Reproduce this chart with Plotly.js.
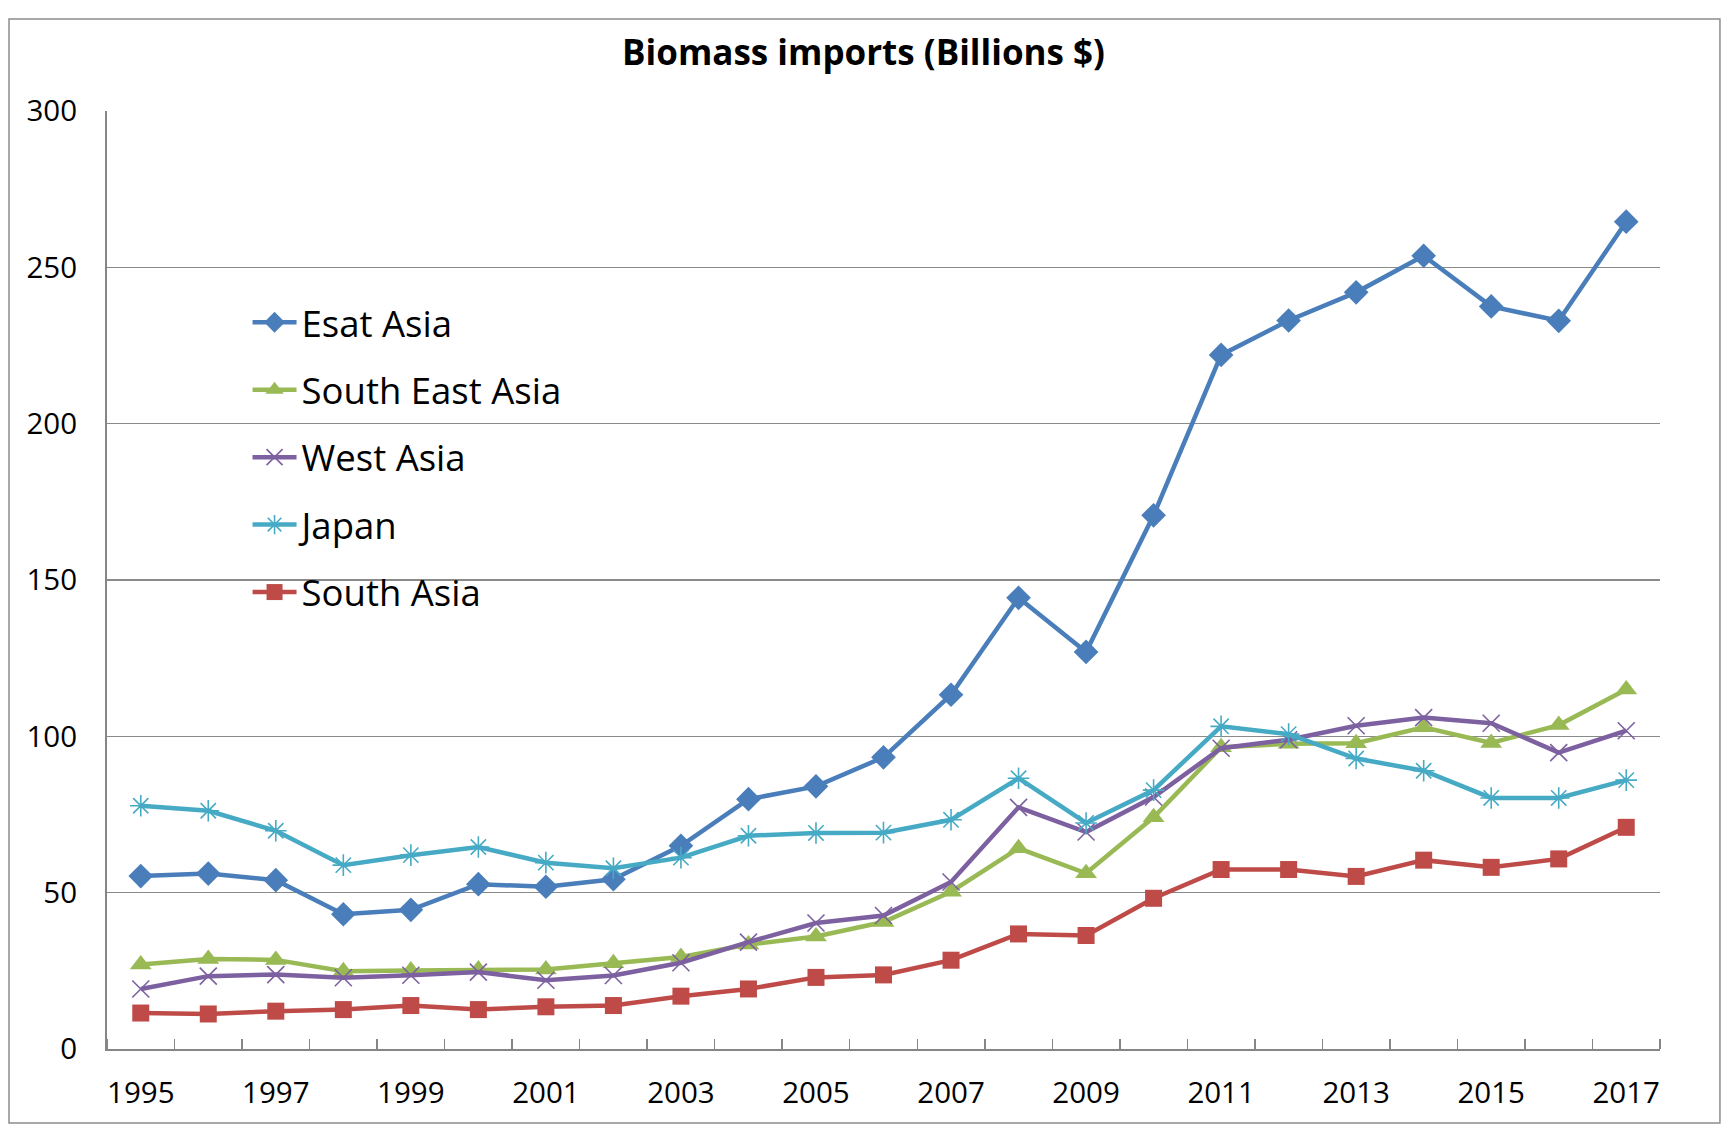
<!DOCTYPE html>
<html>
<head>
<meta charset="utf-8">
<script src="https://cdn.plot.ly/plotly-3.0.1.min.js"></script>
<style>html,body{margin:0;padding:0;background:#fff;}#chart{width:1727px;height:1127px;}</style>
</head>
<body>
<div id="chart"></div>
<script>
const years = [1995,1996,1997,1998,1999,2000,2001,2002,2003,2004,2005,2006,2007,2008,2009,2010,2011,2012,2013,2014,2015,2016,2017];
const tickYears = [1995,1997,1999,2001,2003,2005,2007,2009,2011,2013,2015,2017];
const eastAsia = [55.3,56.1,54.0,43.1,44.5,52.7,51.9,54.3,65.0,79.9,84.0,93.3,113.3,144.3,127.0,170.7,222.0,233.0,242.0,253.7,237.5,232.9,264.6];
const southEastAsia = [27.0,28.8,28.5,24.9,25.1,25.4,25.4,27.4,29.4,33.4,36.0,40.6,50.3,64.2,56.2,74.1,96.5,97.6,97.8,102.9,97.9,103.6,115.0];
const westAsia = [19.2,23.3,23.8,22.8,23.6,24.6,22.0,23.5,27.6,34.2,40.3,42.7,53.4,77.3,69.4,80.6,96.2,98.9,103.4,106.0,104.2,94.8,101.8];
const japan = [77.8,76.2,69.8,58.8,62.0,64.6,59.6,57.8,61.2,68.2,69.1,69.2,73.3,86.6,72.3,82.8,103.2,100.7,92.9,89.0,80.3,80.3,86.0];
const southAsia = [11.5,11.2,12.1,12.6,13.9,12.6,13.5,13.9,16.9,19.2,22.9,23.7,28.4,36.8,36.3,48.2,57.4,57.4,55.2,60.4,58.1,60.8,70.9];
const names = ['Esat Asia','South East Asia','West Asia','Japan','South Asia'];

const font = '"Open Sans", "Noto Sans", sans-serif';
function tr(name, y, color, symbol, size, mline) {
  return {
    type: 'scatter', mode: 'lines+markers', name: name, x: years, y: y,
    legendgroup: name,
    line: {color: color, width: 4.5},
    marker: {symbol: symbol, size: size, color: color, line: {color: color, width: mline}}
  };
}
const data = [
  tr(names[0], eastAsia, '#4A7EBB', 'diamond', 19, 0),
  tr(names[1], southEastAsia, '#98B954', 'triangle-up', 19, 0),
  tr(names[2], westAsia, '#7D60A0', 'x-thin-open', 17, 1.6),
  tr(names[3], japan, '#46AAC5', 'asterisk-open', 18, 1.6),
  tr(names[4], southAsia, '#BE4B48', 'square', 17, 0)
];
const layout = {
  width: 1727, height: 1127,
  margin: {l: 107, r: 67, t: 111, b: 78},
  paper_bgcolor: '#fff', plot_bgcolor: '#fff',
  title: {text: '<b>Biomass imports (Billions $)</b>', font: {family: font, size: 35, color: '#000'}, x: 0.5, xanchor: 'center', y: 0.953, yanchor: 'middle'},
  showlegend: true,
  legend: {x: 0.0905, y: 0.807, xanchor: 'left', yanchor: 'top', font: {family: font, size: 36.5, color: '#000'}, bgcolor: 'rgba(0,0,0,0)', traceorder: 'grouped', tracegroupgap: 17, itemwidth: 44},
  xaxis: {
    type: 'linear', range: [1994.5, 2017.5], tickvals: tickYears, ticktext: tickYears.map(String),
    ticks: 'outside', ticklen: 17, tickcolor: 'rgba(0,0,0,0)',
    showgrid: false, zeroline: false, showline: true, linecolor: '#868686', linewidth: 2,
    tickfont: {family: font, size: 29.5, color: '#000'},
    minor: {tick0: 1994.5, dtick: 1, ticks: 'inside', ticklen: 10, tickcolor: '#868686', tickwidth: 1.5, showgrid: false}
  },
  yaxis: {
    range: [0, 300], dtick: 50, tick0: 0,
    ticks: 'outside', ticklen: 22, tickcolor: 'rgba(0,0,0,0)',
    showgrid: true, gridcolor: '#8a8a8a', gridwidth: 1.5,
    zeroline: false, showline: true, linecolor: '#868686', linewidth: 2,
    tickfont: {family: font, size: 29.5, color: '#000'}
  },
  shapes: [{type: 'rect', xref: 'paper', yref: 'paper', x0: -0.0631, x1: 1.0386, y0: -0.0789, y1: 1.098, line: {color: '#8c8c8c', width: 1.5}, fillcolor: 'rgba(0,0,0,0)', layer: 'below'}]
};
Plotly.newPlot('chart', data, layout, {displayModeBar: false, staticPlot: true});
</script>
</body>
</html>
